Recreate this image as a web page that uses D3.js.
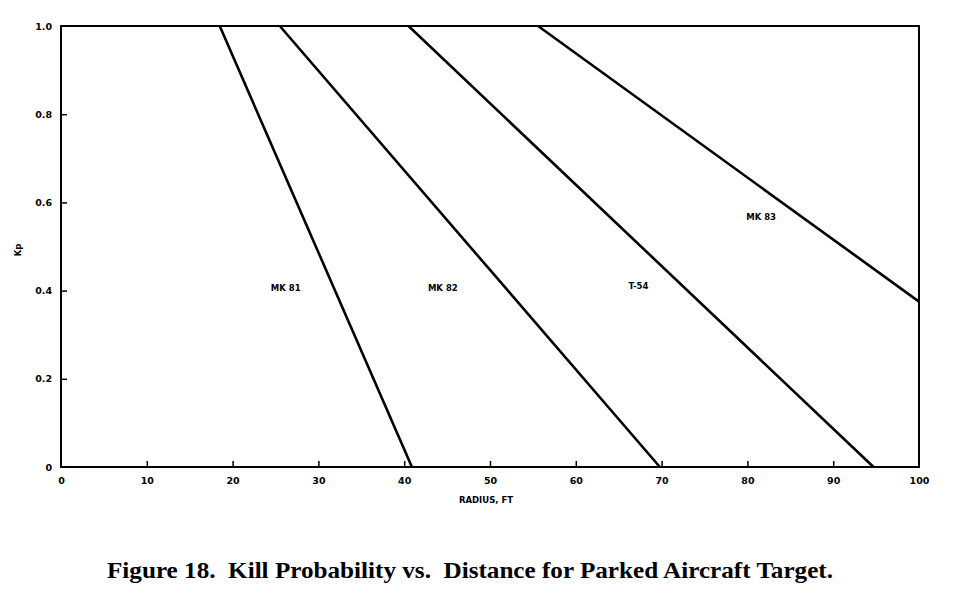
<!DOCTYPE html>
<html><head><meta charset="utf-8">
<script src="https://cdn.jsdelivr.net/npm/d3@7"></script>
<style>body{margin:0;background:#fff}svg{display:block}</style>
</head><body>
<svg id="c" width="959" height="593"></svg>
<script>
// Data
const seriesNames = ["MK 81", "MK 82", "T-54", "MK 83"];
const mk81 = [[18.5, 1.0], [40.9, 0.0]];
const mk82 = [[25.5, 1.0], [69.8, 0.0]];
const t54  = [[40.5, 1.0], [94.7, 0.0]];
const mk83 = [[55.6, 1.0], [100, 0.375]];
const labelPos = [[26.2, 0.405], [44.5, 0.405], [67.3, 0.41], [81.6, 0.565]];
const xTicks = [0, 10, 20, 30, 40, 50, 60, 70, 80, 90, 100];
const yTicks = [0, 0.2, 0.4, 0.6, 0.8, 1.0];
const yTickLabels = ["0", "0.2", "0.4", "0.6", "0.8", "1.0"];
const xTitle = "RADIUS, FT";
const yTitle = "Kp";
const caption = "Figure 18.  Kill Probability vs.  Distance for Parked Aircraft Target.";

const svg = d3.select("#c");
const x = d3.scaleLinear().domain([0, 100]).range([61, 919]);
const y = d3.scaleLinear().domain([0, 1]).range([467, 26]);

// frame
svg.append("rect").attr("x", x(0)).attr("y", y(1)).attr("width", x(100) - x(0)).attr("height", y(0) - y(1))
  .attr("fill", "none").attr("stroke", "#000").attr("stroke-width", 2);

// x ticks (inward)
const xa = svg.append("g").attr("transform", `translate(0,${y(0)})`)
  .call(d3.axisBottom(x).tickValues(xTicks).tickSizeInner(-6).tickSizeOuter(0).tickPadding(10).tickFormat(d3.format("d")));
xa.select(".domain").remove();
xa.selectAll(".tick line").attr("stroke-width", 1.5).filter(d => d === 0 || d === 100).remove();
xa.selectAll("text").attr("font-family", "DejaVu Sans").attr("font-weight", "bold").attr("font-size", 9.5).attr("fill", "#000");

// y ticks (inward)
const ya = svg.append("g").attr("transform", `translate(${x(0)},0)`)
  .call(d3.axisLeft(y).tickValues(yTicks).tickSizeInner(-6).tickSizeOuter(0).tickPadding(9)
    .tickFormat((d, i) => yTickLabels[i]));
ya.select(".domain").remove();
ya.selectAll(".tick line").attr("stroke-width", 1.5).filter(d => d === 0 || d === 1).remove();
ya.selectAll("text").attr("font-family", "DejaVu Sans").attr("font-weight", "bold").attr("font-size", 9.5).attr("fill", "#000");

// series lines
const line = d3.line().x(d => x(d[0])).y(d => y(d[1]));
const series = [mk81, mk82, t54, mk83];
svg.append("g").selectAll("path").data(series).join("path")
  .attr("d", line).attr("fill", "none").attr("stroke", "#000").attr("stroke-width", 2.6);

// labels
svg.append("g").selectAll("text").data(seriesNames).join("text")
  .attr("x", (d, i) => x(labelPos[i][0])).attr("y", (d, i) => y(labelPos[i][1]))
  .attr("text-anchor", "middle").attr("dominant-baseline", "middle")
  .attr("font-family", "DejaVu Sans").attr("font-weight", "bold").attr("font-size", 8.5)
  .text(d => d);

// axis titles
svg.append("text").attr("x", 486).attr("y", 503).attr("text-anchor", "middle")
  .attr("font-family", "DejaVu Sans").attr("font-weight", "bold").attr("font-size", 8.5).text(xTitle);
svg.append("text").attr("transform", "translate(21,250) rotate(-90)").attr("text-anchor", "middle")
  .attr("font-family", "DejaVu Sans").attr("font-weight", "bold").attr("font-size", 8.5).text(yTitle);

// caption
svg.append("text").attr("x", 470).attr("y", 578).attr("text-anchor", "middle")
  .attr("font-family", "Liberation Serif").attr("font-weight", "bold").attr("font-size", 23.5)
  .attr("textLength", 726).attr("lengthAdjust", "spacingAndGlyphs")
  .attr("xml:space", "preserve").style("white-space", "pre").text(caption);
</script>
</body></html>
